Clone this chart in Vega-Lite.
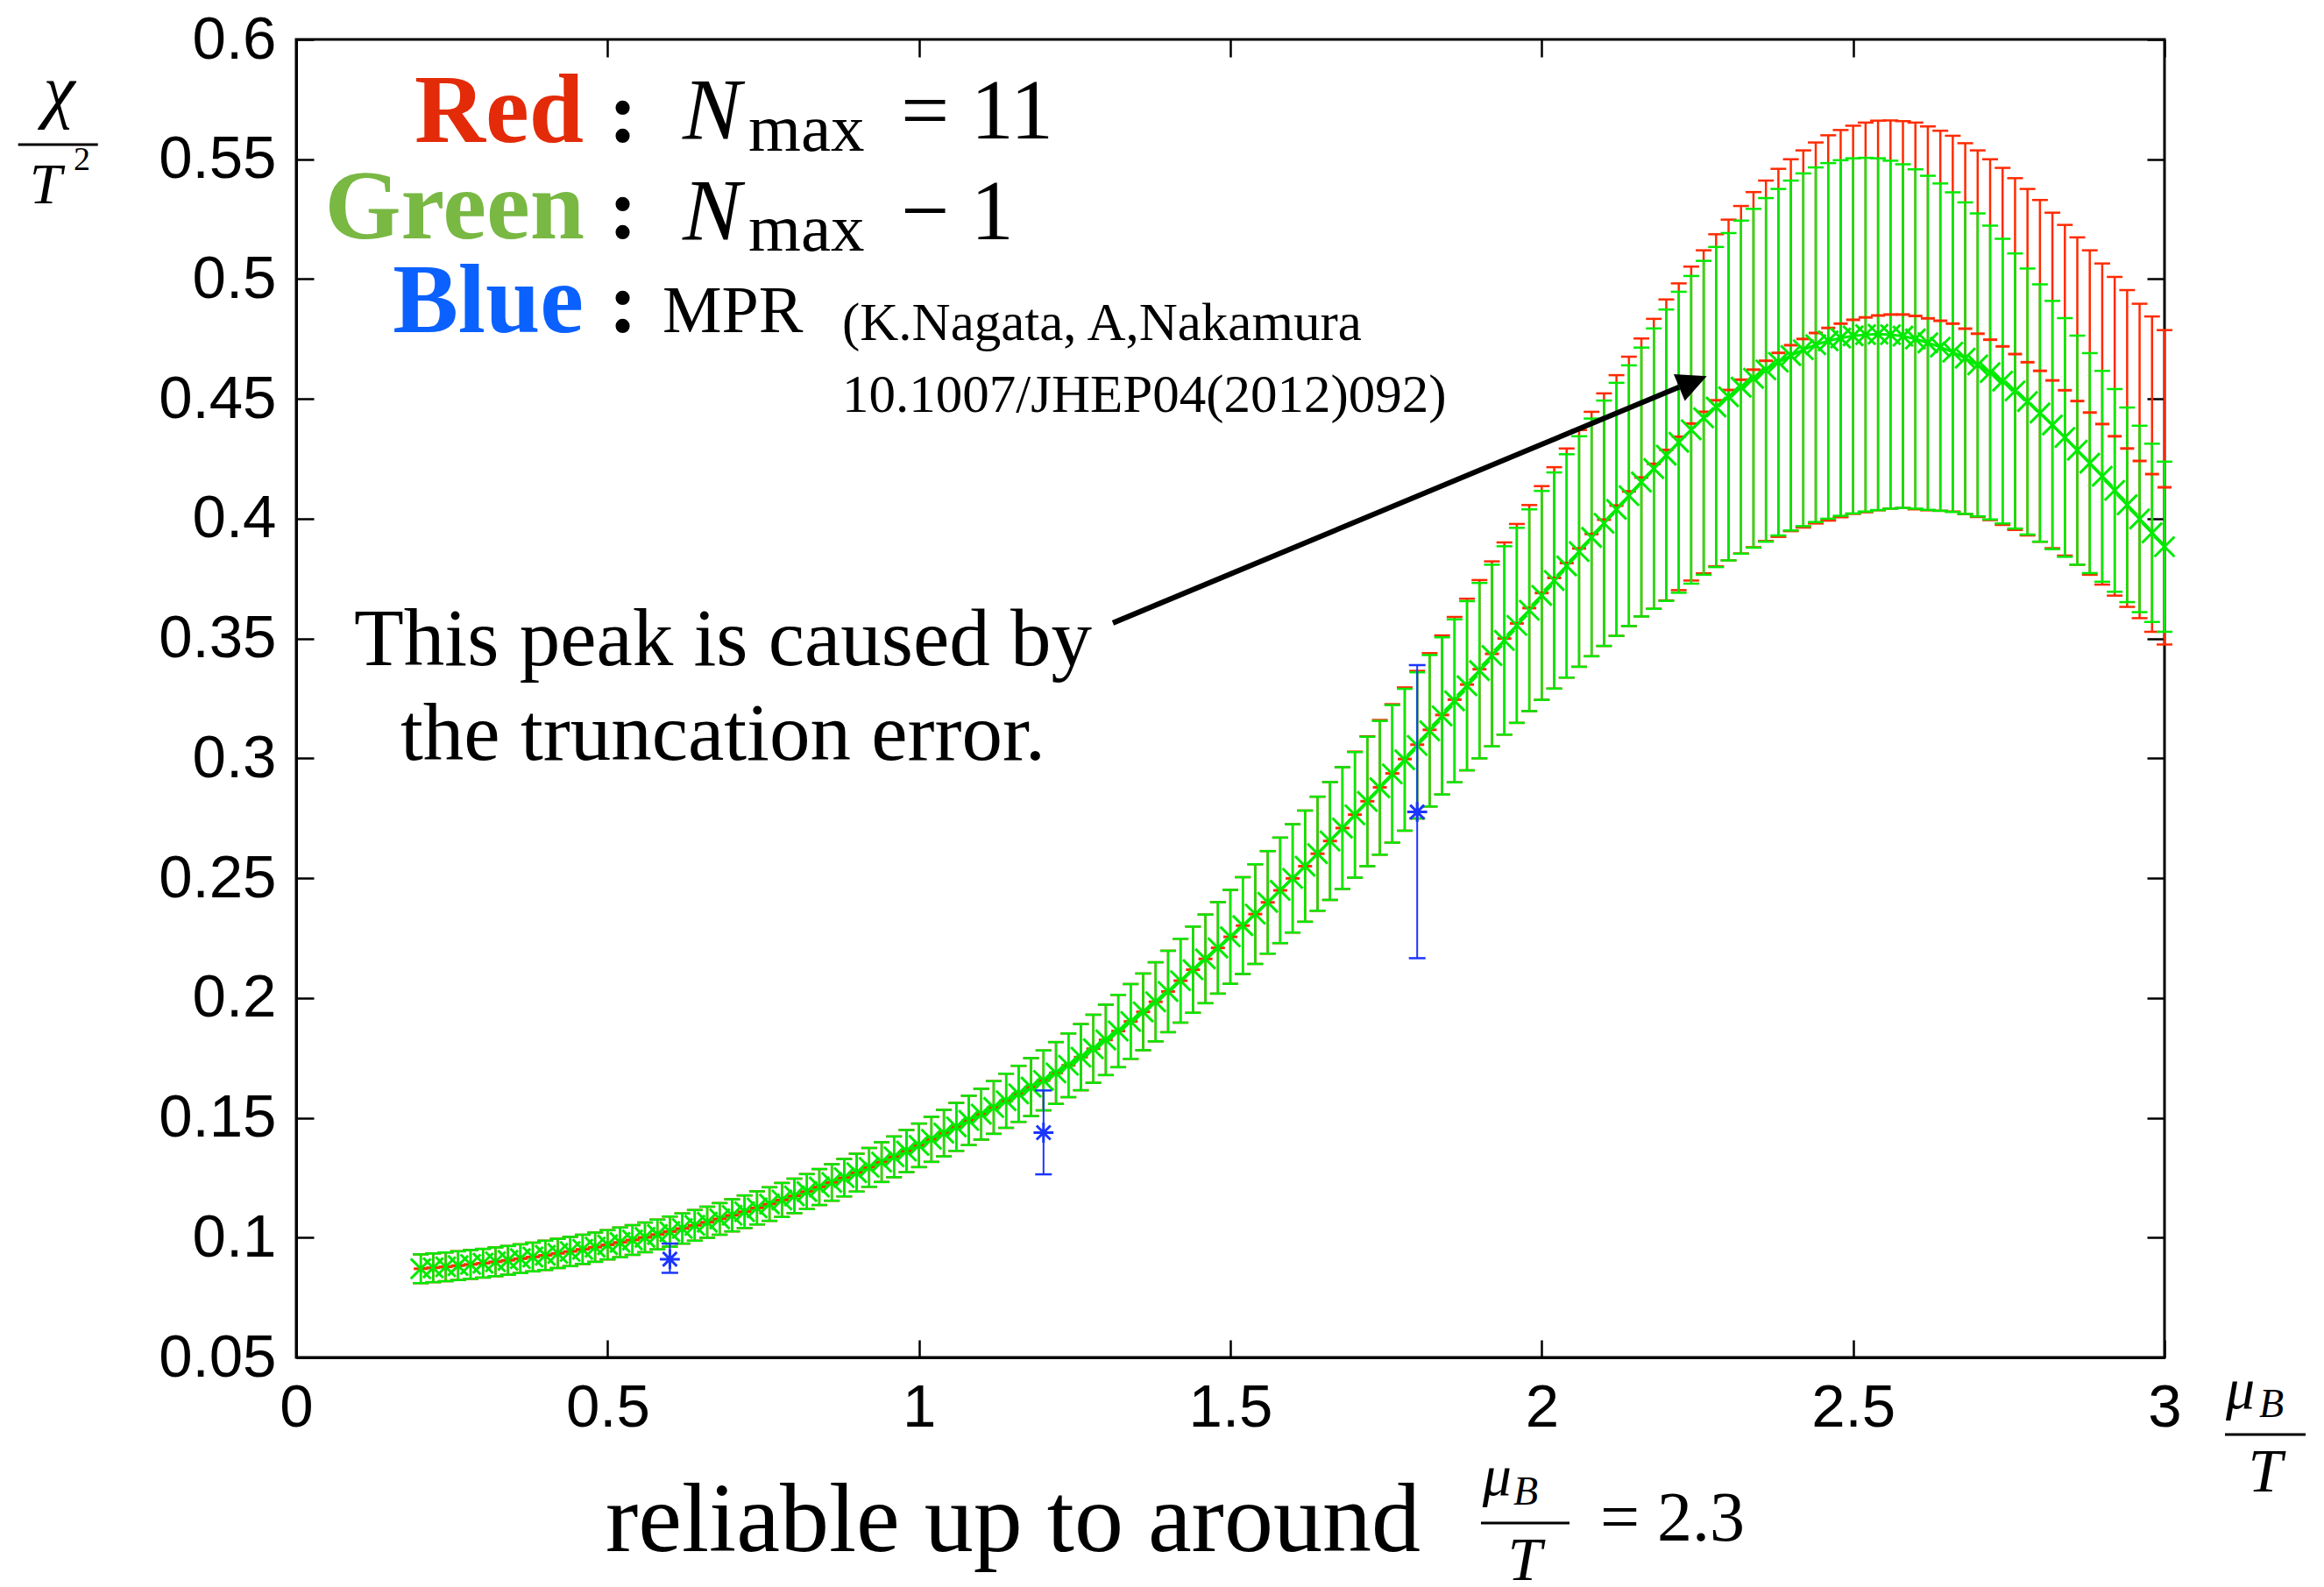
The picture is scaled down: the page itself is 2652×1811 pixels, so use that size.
{
"$schema": "https://vega.github.io/schema/vega-lite/v6.json",
"width": 2132, "height": 1504,
"autosize": {"type": "none"},
"padding": {"left": 338, "top": 45, "right": 182, "bottom": 262},
"background": "white",
"config": {
  "view": {"stroke": "black", "strokeWidth": 3},
  "axis": {"grid": false, "tickColor": "black", "domainColor": "black", "labelColor": "black", "tickWidth": 2.5, "domainWidth": 3, "tickSize": -20, "labelFont": "Liberation Sans", "labelFontSize": 69, "labelPadding": 43, "labelFlush": false, "labelOverlap": false, "labelBound": false},
  "point": {"opacity": 1},
  "tick": {"opacity": 1}
},
"datasets": {
"green": [
{"x":0.20,"y":0.0870,"e":0.0060},{"x":0.22,"y":0.0874,"e":0.0060},{"x":0.24,"y":0.0878,"e":0.0060},{"x":0.26,"y":0.0883,"e":0.0060},{"x":0.28,"y":0.0888,"e":0.0060},
{"x":0.30,"y":0.0893,"e":0.0060},{"x":0.32,"y":0.0899,"e":0.0060},{"x":0.34,"y":0.0905,"e":0.0060},{"x":0.36,"y":0.0912,"e":0.0060},{"x":0.38,"y":0.0919,"e":0.0060},
{"x":0.40,"y":0.0926,"e":0.0061},{"x":0.42,"y":0.0934,"e":0.0061},{"x":0.44,"y":0.0942,"e":0.0061},{"x":0.46,"y":0.0951,"e":0.0061},{"x":0.48,"y":0.0960,"e":0.0061},
{"x":0.50,"y":0.0970,"e":0.0061},{"x":0.52,"y":0.0980,"e":0.0062},{"x":0.54,"y":0.0990,"e":0.0062},{"x":0.56,"y":0.1001,"e":0.0062},{"x":0.58,"y":0.1013,"e":0.0062},
{"x":0.60,"y":0.1025,"e":0.0063},{"x":0.62,"y":0.1038,"e":0.0063},{"x":0.64,"y":0.1051,"e":0.0064},{"x":0.66,"y":0.1064,"e":0.0065},{"x":0.68,"y":0.1078,"e":0.0066},
{"x":0.70,"y":0.1093,"e":0.0067},{"x":0.72,"y":0.1108,"e":0.0068},{"x":0.74,"y":0.1124,"e":0.0069},{"x":0.76,"y":0.1140,"e":0.0070},{"x":0.78,"y":0.1157,"e":0.0071},
{"x":0.80,"y":0.1174,"e":0.0072},{"x":0.82,"y":0.1192,"e":0.0073},{"x":0.84,"y":0.1211,"e":0.0075},{"x":0.86,"y":0.1230,"e":0.0076},{"x":0.88,"y":0.1250,"e":0.0078},
{"x":0.90,"y":0.1271,"e":0.0079},{"x":0.92,"y":0.1293,"e":0.0081},{"x":0.94,"y":0.1315,"e":0.0083},{"x":0.96,"y":0.1337,"e":0.0085},{"x":0.98,"y":0.1361,"e":0.0088},
{"x":1.00,"y":0.1385,"e":0.0091},{"x":1.02,"y":0.1410,"e":0.0094},{"x":1.04,"y":0.1436,"e":0.0097},{"x":1.06,"y":0.1462,"e":0.0100},{"x":1.08,"y":0.1489,"e":0.0103},
{"x":1.10,"y":0.1515,"e":0.0106},{"x":1.12,"y":0.1543,"e":0.0110},{"x":1.14,"y":0.1571,"e":0.0113},{"x":1.16,"y":0.1600,"e":0.0117},{"x":1.18,"y":0.1628,"e":0.0121},
{"x":1.20,"y":0.1656,"e":0.0125},{"x":1.22,"y":0.1687,"e":0.0129},{"x":1.24,"y":0.1719,"e":0.0133},{"x":1.26,"y":0.1753,"e":0.0138},{"x":1.28,"y":0.1788,"e":0.0142},
{"x":1.30,"y":0.1825,"e":0.0147},{"x":1.32,"y":0.1862,"e":0.0151},{"x":1.34,"y":0.1902,"e":0.0156},{"x":1.36,"y":0.1942,"e":0.0160},{"x":1.38,"y":0.1984,"e":0.0165},
{"x":1.40,"y":0.2027,"e":0.0170},{"x":1.42,"y":0.2072,"e":0.0175},{"x":1.44,"y":0.2118,"e":0.0180},{"x":1.46,"y":0.2163,"e":0.0185},{"x":1.48,"y":0.2209,"e":0.0191},
{"x":1.50,"y":0.2255,"e":0.0196},{"x":1.52,"y":0.2302,"e":0.0202},{"x":1.54,"y":0.2350,"e":0.0208},{"x":1.56,"y":0.2399,"e":0.0214},{"x":1.58,"y":0.2449,"e":0.0220},
{"x":1.60,"y":0.2499,"e":0.0226},{"x":1.62,"y":0.2550,"e":0.0232},{"x":1.64,"y":0.2602,"e":0.0238},{"x":1.66,"y":0.2655,"e":0.0246},{"x":1.68,"y":0.2709,"e":0.0254},
{"x":1.70,"y":0.2764,"e":0.0262},{"x":1.72,"y":0.2820,"e":0.0270},{"x":1.74,"y":0.2877,"e":0.0279},{"x":1.76,"y":0.2935,"e":0.0287},{"x":1.78,"y":0.2994,"e":0.0296},
{"x":1.80,"y":0.3054,"e":0.0305},{"x":1.82,"y":0.3115,"e":0.0316},{"x":1.84,"y":0.3177,"e":0.0328},{"x":1.86,"y":0.3240,"e":0.0340},{"x":1.88,"y":0.3303,"e":0.0353},
{"x":1.90,"y":0.3366,"e":0.0366},{"x":1.92,"y":0.3429,"e":0.0379},{"x":1.94,"y":0.3492,"e":0.0393},{"x":1.96,"y":0.3555,"e":0.0407},{"x":1.98,"y":0.3618,"e":0.0421},
{"x":2.00,"y":0.3680,"e":0.0436},{"x":2.02,"y":0.3742,"e":0.0451},{"x":2.04,"y":0.3803,"e":0.0466},{"x":2.06,"y":0.3863,"e":0.0481},{"x":2.08,"y":0.3922,"e":0.0496},
{"x":2.10,"y":0.3981,"e":0.0512},{"x":2.12,"y":0.4039,"e":0.0528},{"x":2.14,"y":0.4096,"e":0.0544},{"x":2.16,"y":0.4153,"e":0.0561},{"x":2.18,"y":0.4209,"e":0.0585},
{"x":2.20,"y":0.4265,"e":0.0608},{"x":2.22,"y":0.4319,"e":0.0628},{"x":2.24,"y":0.4371,"e":0.0642},{"x":2.26,"y":0.4421,"e":0.0655},{"x":2.28,"y":0.4466,"e":0.0668},
{"x":2.30,"y":0.4509,"e":0.0683},{"x":2.32,"y":0.4549,"e":0.0695},{"x":2.34,"y":0.4586,"e":0.0707},{"x":2.36,"y":0.4621,"e":0.0717},{"x":2.38,"y":0.4653,"e":0.0723},
{"x":2.40,"y":0.4681,"e":0.0730},{"x":2.42,"y":0.4705,"e":0.0736},{"x":2.44,"y":0.4726,"e":0.0740},{"x":2.46,"y":0.4742,"e":0.0742},{"x":2.48,"y":0.4754,"e":0.0742},
{"x":2.50,"y":0.4763,"e":0.0741},{"x":2.52,"y":0.4768,"e":0.0738},{"x":2.54,"y":0.4770,"e":0.0734},{"x":2.56,"y":0.4768,"e":0.0726},{"x":2.58,"y":0.4762,"e":0.0717},
{"x":2.60,"y":0.4750,"e":0.0708},{"x":2.62,"y":0.4734,"e":0.0697},{"x":2.64,"y":0.4716,"e":0.0683},{"x":2.66,"y":0.4695,"e":0.0667},{"x":2.68,"y":0.4670,"e":0.0650},
{"x":2.70,"y":0.4642,"e":0.0632},{"x":2.72,"y":0.4610,"e":0.0613},{"x":2.74,"y":0.4574,"e":0.0594},{"x":2.76,"y":0.4533,"e":0.0574},{"x":2.78,"y":0.4489,"e":0.0555},
{"x":2.80,"y":0.4441,"e":0.0537},{"x":2.82,"y":0.4391,"e":0.0518},{"x":2.84,"y":0.4339,"e":0.0498},{"x":2.86,"y":0.4286,"e":0.0478},{"x":2.88,"y":0.4232,"e":0.0459},
{"x":2.90,"y":0.4177,"e":0.0440},{"x":2.92,"y":0.4118,"e":0.0423},{"x":2.94,"y":0.4058,"e":0.0406},{"x":2.96,"y":0.3999,"e":0.0389},{"x":2.98,"y":0.3941,"e":0.0372},
{"x":3.00,"y":0.3883,"e":0.0355}
],
"red": [
{"x":0.20,"y":0.0870,"e":0.0060},{"x":0.22,"y":0.0874,"e":0.0060},{"x":0.24,"y":0.0878,"e":0.0060},{"x":0.26,"y":0.0883,"e":0.0060},{"x":0.28,"y":0.0888,"e":0.0060},
{"x":0.30,"y":0.0893,"e":0.0060},{"x":0.32,"y":0.0899,"e":0.0060},{"x":0.34,"y":0.0905,"e":0.0060},{"x":0.36,"y":0.0912,"e":0.0060},{"x":0.38,"y":0.0919,"e":0.0060},
{"x":0.40,"y":0.0926,"e":0.0061},{"x":0.42,"y":0.0934,"e":0.0061},{"x":0.44,"y":0.0942,"e":0.0061},{"x":0.46,"y":0.0951,"e":0.0061},{"x":0.48,"y":0.0960,"e":0.0061},
{"x":0.50,"y":0.0970,"e":0.0061},{"x":0.52,"y":0.0980,"e":0.0062},{"x":0.54,"y":0.0990,"e":0.0062},{"x":0.56,"y":0.1001,"e":0.0062},{"x":0.58,"y":0.1013,"e":0.0062},
{"x":0.60,"y":0.1025,"e":0.0063},{"x":0.62,"y":0.1038,"e":0.0063},{"x":0.64,"y":0.1051,"e":0.0064},{"x":0.66,"y":0.1064,"e":0.0065},{"x":0.68,"y":0.1078,"e":0.0066},
{"x":0.70,"y":0.1093,"e":0.0067},{"x":0.72,"y":0.1108,"e":0.0068},{"x":0.74,"y":0.1124,"e":0.0069},{"x":0.76,"y":0.1140,"e":0.0070},{"x":0.78,"y":0.1157,"e":0.0071},
{"x":0.80,"y":0.1174,"e":0.0072},{"x":0.82,"y":0.1192,"e":0.0073},{"x":0.84,"y":0.1211,"e":0.0075},{"x":0.86,"y":0.1230,"e":0.0076},{"x":0.88,"y":0.1250,"e":0.0078},
{"x":0.90,"y":0.1271,"e":0.0079},{"x":0.92,"y":0.1293,"e":0.0081},{"x":0.94,"y":0.1315,"e":0.0083},{"x":0.96,"y":0.1337,"e":0.0085},{"x":0.98,"y":0.1361,"e":0.0088},
{"x":1.00,"y":0.1385,"e":0.0091},{"x":1.02,"y":0.1410,"e":0.0094},{"x":1.04,"y":0.1436,"e":0.0097},{"x":1.06,"y":0.1462,"e":0.0100},{"x":1.08,"y":0.1489,"e":0.0103},
{"x":1.10,"y":0.1515,"e":0.0106},{"x":1.12,"y":0.1543,"e":0.0110},{"x":1.14,"y":0.1571,"e":0.0113},{"x":1.16,"y":0.1600,"e":0.0117},{"x":1.18,"y":0.1628,"e":0.0121},
{"x":1.20,"y":0.1656,"e":0.0125},{"x":1.22,"y":0.1687,"e":0.0129},{"x":1.24,"y":0.1719,"e":0.0133},{"x":1.26,"y":0.1753,"e":0.0138},{"x":1.28,"y":0.1788,"e":0.0142},
{"x":1.30,"y":0.1825,"e":0.0147},{"x":1.32,"y":0.1862,"e":0.0151},{"x":1.34,"y":0.1902,"e":0.0156},{"x":1.36,"y":0.1942,"e":0.0160},{"x":1.38,"y":0.1984,"e":0.0165},
{"x":1.40,"y":0.2027,"e":0.0170},{"x":1.42,"y":0.2072,"e":0.0175},{"x":1.44,"y":0.2118,"e":0.0180},{"x":1.46,"y":0.2163,"e":0.0185},{"x":1.48,"y":0.2209,"e":0.0191},
{"x":1.50,"y":0.2255,"e":0.0196},{"x":1.52,"y":0.2302,"e":0.0202},{"x":1.54,"y":0.2350,"e":0.0208},{"x":1.56,"y":0.2399,"e":0.0214},{"x":1.58,"y":0.2449,"e":0.0220},
{"x":1.60,"y":0.2499,"e":0.0226},{"x":1.62,"y":0.2550,"e":0.0232},{"x":1.64,"y":0.2602,"e":0.0238},{"x":1.66,"y":0.2655,"e":0.0246},{"x":1.68,"y":0.2709,"e":0.0254},
{"x":1.70,"y":0.2765,"e":0.0263},{"x":1.72,"y":0.2821,"e":0.0271},{"x":1.74,"y":0.2879,"e":0.0281},{"x":1.76,"y":0.2937,"e":0.0289},{"x":1.78,"y":0.2997,"e":0.0299},
{"x":1.80,"y":0.3057,"e":0.0308},{"x":1.82,"y":0.3119,"e":0.0320},{"x":1.84,"y":0.3181,"e":0.0332},{"x":1.86,"y":0.3245,"e":0.0345},{"x":1.88,"y":0.3308,"e":0.0358},
{"x":1.90,"y":0.3372,"e":0.0372},{"x":1.92,"y":0.3436,"e":0.0386},{"x":1.94,"y":0.3500,"e":0.0401},{"x":1.96,"y":0.3563,"e":0.0415},{"x":1.98,"y":0.3627,"e":0.0430},
{"x":2.00,"y":0.3690,"e":0.0446},{"x":2.02,"y":0.3753,"e":0.0462},{"x":2.04,"y":0.3815,"e":0.0478},{"x":2.06,"y":0.3876,"e":0.0494},{"x":2.08,"y":0.3936,"e":0.0510},
{"x":2.10,"y":0.3996,"e":0.0527},{"x":2.12,"y":0.4055,"e":0.0544},{"x":2.14,"y":0.4114,"e":0.0562},{"x":2.16,"y":0.4172,"e":0.0580},{"x":2.18,"y":0.4229,"e":0.0605},
{"x":2.20,"y":0.4287,"e":0.0628},{"x":2.22,"y":0.4342,"e":0.0640},{"x":2.24,"y":0.4397,"e":0.0655},{"x":2.26,"y":0.4446,"e":0.0674},{"x":2.28,"y":0.4494,"e":0.0693},
{"x":2.30,"y":0.4537,"e":0.0711},{"x":2.32,"y":0.4580,"e":0.0725},{"x":2.34,"y":0.4622,"e":0.0741},{"x":2.36,"y":0.4659,"e":0.0752},{"x":2.38,"y":0.4692,"e":0.0768},
{"x":2.40,"y":0.4724,"e":0.0776},{"x":2.42,"y":0.4750,"e":0.0787},{"x":2.44,"y":0.4775,"e":0.0795},{"x":2.46,"y":0.4796,"e":0.0804},{"x":2.48,"y":0.4814,"e":0.0808},
{"x":2.50,"y":0.4830,"e":0.0810},{"x":2.52,"y":0.4840,"e":0.0813},{"x":2.54,"y":0.4848,"e":0.0813},{"x":2.56,"y":0.4852,"e":0.0810},{"x":2.58,"y":0.4852,"e":0.0807},
{"x":2.60,"y":0.4846,"e":0.0807},{"x":2.62,"y":0.4836,"e":0.0801},{"x":2.64,"y":0.4826,"e":0.0793},{"x":2.66,"y":0.4814,"e":0.0784},{"x":2.68,"y":0.4793,"e":0.0774},
{"x":2.70,"y":0.4772,"e":0.0765},{"x":2.72,"y":0.4747,"e":0.0753},{"x":2.74,"y":0.4719,"e":0.0745},{"x":2.76,"y":0.4687,"e":0.0734},{"x":2.78,"y":0.4653,"e":0.0723},
{"x":2.80,"y":0.4617,"e":0.0713},{"x":2.82,"y":0.4577,"e":0.0700},{"x":2.84,"y":0.4536,"e":0.0690},{"x":2.86,"y":0.4491,"e":0.0683},{"x":2.88,"y":0.4443,"e":0.0677},
{"x":2.90,"y":0.4395,"e":0.0670},{"x":2.92,"y":0.4344,"e":0.0665},{"x":2.94,"y":0.4293,"e":0.0661},{"x":2.96,"y":0.4241,"e":0.0656},{"x":2.98,"y":0.4186,"e":0.0658},
{"x":3.00,"y":0.4131,"e":0.0656}
],
"blue": [
{"x":0.6,"y":0.0910,"lo":0.0853,"hi":0.0975},
{"x":1.2,"y":0.1438,"lo":0.1264,"hi":0.1614},
{"x":1.8,"y":0.2776,"lo":0.2166,"hi":0.3389}
]
},
"encoding": {
  "x": {"field": "x", "type": "quantitative", "scale": {"domain": [0, 3], "nice": false, "zero": false}, "axis": null},
  "y": {"field": "y", "type": "quantitative", "scale": {"domain": [0.05, 0.6], "nice": false, "zero": false}, "axis": null}
},
"resolve": {"axis": {"x": "independent", "y": "independent"}},
"layer": [
  {"data": {"name": "red"},
   "mark": {"type": "errorbar", "color": "#ff2b00", "thickness": 2.5, "opacity": 1, "ticks": {"size": 18, "thickness": 2.5, "opacity": 1}},
   "encoding": {"yError": {"field": "e"}}},
  {"data": {"name": "green"},
   "mark": {"type": "errorbar", "color": "#00ea00", "thickness": 2.5, "opacity": 1, "ticks": {"size": 18, "thickness": 2.5, "opacity": 1}},
   "encoding": {"yError": {"field": "e"}}},
  {"data": {"name": "green"},
   "mark": {"type": "line", "color": "#00ea00", "strokeWidth": 3},
   "encoding": {
     "x": {"field": "x", "type": "quantitative", "scale": {"domain": [0, 3], "nice": false, "zero": false},
           "axis": {"orient": "bottom", "values": [0, 0.5, 1, 1.5, 2, 2.5, 3], "format": "~g", "title": null}},
     "y": {"field": "y", "type": "quantitative", "scale": {"domain": [0.05, 0.6], "nice": false, "zero": false},
           "axis": {"orient": "left", "values": [0.05, 0.1, 0.15, 0.2, 0.25, 0.3, 0.35, 0.4, 0.45, 0.5, 0.55, 0.6], "format": "~g", "title": null}}
   }},
  {"data": {"name": "red"},
   "mark": {"type": "tick", "orient": "horizontal", "color": "#ff2b00", "size": 16, "thickness": 3, "opacity": 1}},
  {"data": {"name": "green"},
   "mark": {"type": "point", "shape": "M-1,-1L1,1M-1,1L1,-1", "size": 520, "strokeWidth": 3, "color": "#00ea00", "filled": false, "opacity": 1}},
  {"data": {"name": "blue"},
   "mark": {"type": "errorbar", "color": "#1a35ff", "thickness": 2, "opacity": 1, "ticks": {"size": 19, "thickness": 2.5, "opacity": 1}},
   "encoding": {
     "y": {"field": "lo", "type": "quantitative", "scale": {"domain": [0.05, 0.6], "nice": false, "zero": false}, "axis": null},
     "y2": {"field": "hi"}
   }},
  {"data": {"name": "blue"},
   "mark": {"type": "point", "shape": "M-1,0L1,0M0,-1L0,1M-0.7,-0.7L0.7,0.7M-0.7,0.7L0.7,-0.7", "size": 520, "strokeWidth": 3, "color": "#1a35ff", "filled": false, "opacity": 1},
   "encoding": {
     "x": {"field": "x", "type": "quantitative", "scale": {"domain": [0, 3], "nice": false, "zero": false},
           "axis": {"orient": "top", "values": [0, 0.5, 1, 1.5, 2, 2.5, 3], "labels": false, "domain": false, "title": null}},
     "y": {"field": "y", "type": "quantitative", "scale": {"domain": [0.05, 0.6], "nice": false, "zero": false},
           "axis": {"orient": "right", "values": [0.05, 0.1, 0.15, 0.2, 0.25, 0.3, 0.35, 0.4, 0.45, 0.5, 0.55, 0.6], "labels": false, "domain": false, "title": null}}
   }},
  {"data": {"values": [{"x": 0.4615, "y": 0.5572, "t": "Red"}, {"x": 0.4629, "y": 0.5170, "t": "Green"}, {"x": 0.4615, "y": 0.4779, "t": "Blue"}]},
   "mark": {"type": "text", "align": "right", "baseline": "alphabetic", "font": "Liberation Serif", "fontWeight": "bold", "fontSize": 112},
   "encoding": {"text": {"field": "t"}, "color": {"field": "t", "type": "nominal", "scale": {"domain": ["Red", "Green", "Blue"], "range": ["#e32b09", "#78b843", "#0b61fe"]}, "legend": null}}},
  {"data": {"values": [{"x": 0.5249, "y": 0.5572, "t": ":"}, {"x": 0.5249, "y": 0.5170, "t": ":"}, {"x": 0.5249, "y": 0.4779, "t": ":"}]},
   "mark": {"type": "text", "align": "center", "baseline": "alphabetic", "font": "Liberation Serif", "fontWeight": "bold", "fontSize": 100, "color": "black"},
   "encoding": {"text": {"field": "t"}}},
  {"data": {"values": [{"x": 0.6205, "y": 0.5587, "t": "N"}, {"x": 0.6205, "y": 0.5167, "t": "N"}]},
   "mark": {"type": "text", "align": "left", "baseline": "alphabetic", "font": "Liberation Serif", "fontStyle": "italic", "fontSize": 100, "color": "black"},
   "encoding": {"text": {"field": "t"}}},
  {"data": {"values": [{"x": 0.7261, "y": 0.5536, "t": "max"}, {"x": 0.7261, "y": 0.5119, "t": "max"}]},
   "mark": {"type": "text", "align": "left", "baseline": "alphabetic", "font": "Liberation Serif", "fontSize": 77, "color": "black"},
   "encoding": {"text": {"field": "t"}}},
  {"data": {"values": [{"x": 0.9709, "y": 0.5587, "t": "= 11"}, {"x": 0.9709, "y": 0.5167, "t": "− 1"}]},
   "mark": {"type": "text", "align": "left", "baseline": "alphabetic", "font": "Liberation Serif", "fontSize": 98, "color": "black"},
   "encoding": {"text": {"field": "t"}}},
  {"data": {"values": [{"x": 0.5882, "y": 0.4778, "t": "MPR"}]},
   "mark": {"type": "text", "align": "left", "baseline": "alphabetic", "font": "Liberation Serif", "fontSize": 76, "color": "black"},
   "encoding": {"text": {"field": "t"}}},
  {"data": {"values": [{"x": 0.8766, "y": 0.4745, "t": "(K.Nagata, A,Nakamura"}, {"x": 0.8766, "y": 0.4446, "t": "10.1007/JHEP04(2012)092)"}]},
   "mark": {"type": "text", "align": "left", "baseline": "alphabetic", "font": "Liberation Serif", "fontSize": 61, "color": "black"},
   "encoding": {"text": {"field": "t"}}},
  {"data": {"values": [{"x": 0.6853, "y": 0.3388, "t": "This peak is caused by"}, {"x": 0.6853, "y": 0.2995, "t": "the truncation error."}]},
   "mark": {"type": "text", "align": "center", "baseline": "alphabetic", "font": "Liberation Serif", "fontSize": 93, "color": "black"},
   "encoding": {"text": {"field": "t"}}},
  {"data": {"values": [{"x": 0.4967, "y": -0.0308, "t": "reliable up to around"}]},
   "mark": {"type": "text", "align": "left", "baseline": "alphabetic", "font": "Liberation Serif", "fontSize": 112, "color": "black"},
   "encoding": {"text": {"field": "t"}}},
  {"data": {"values": [{"x": 2.0938, "y": -0.0264, "t": "= 2.3"}]},
   "mark": {"type": "text", "align": "left", "baseline": "alphabetic", "font": "Liberation Serif", "fontSize": 80, "color": "black"},
   "encoding": {"text": {"field": "t"}}},
  {"data": {"values": [{"x": -0.3806, "y": 0.5689, "t": "χ"}]},
   "mark": {"type": "text", "align": "center", "baseline": "alphabetic", "font": "Liberation Serif", "fontStyle": "italic", "fontSize": 82, "color": "black"},
   "encoding": {"text": {"field": "t"}}},
  {"data": {"values": [{"x": -0.4024, "y": 0.5317, "t": "T"}]},
   "mark": {"type": "text", "align": "center", "baseline": "alphabetic", "font": "Liberation Serif", "fontStyle": "italic", "fontSize": 66, "color": "black"},
   "encoding": {"text": {"field": "t"}}},
  {"data": {"values": [{"x": -0.3575, "y": 0.5455, "t": "2"}]},
   "mark": {"type": "text", "align": "left", "baseline": "alphabetic", "font": "Liberation Serif", "fontSize": 38, "color": "black"},
   "encoding": {"text": {"field": "t"}}},
  {"data": {"values": [{"x": 3.0985, "y": 0.0288, "t": "μ"}, {"x": 1.905, "y": -0.0074, "t": "μ"}]},
   "mark": {"type": "text", "align": "left", "baseline": "alphabetic", "font": "Liberation Serif", "fontStyle": "italic", "fontSize": 66, "color": "black"},
   "encoding": {"text": {"field": "t"}}},
  {"data": {"values": [{"x": 3.1520, "y": 0.0251, "t": "B"}, {"x": 1.9545, "y": -0.0114, "t": "B"}]},
   "mark": {"type": "text", "align": "left", "baseline": "alphabetic", "font": "Liberation Serif", "fontStyle": "italic", "fontSize": 46, "color": "black"},
   "encoding": {"text": {"field": "t"}}},
  {"data": {"values": [{"x": 3.1618, "y": -0.0060, "t": "T"}, {"x": 1.9728, "y": -0.0429, "t": "T"}]},
   "mark": {"type": "text", "align": "center", "baseline": "alphabetic", "font": "Liberation Serif", "fontStyle": "italic", "fontSize": 70, "color": "black"},
   "encoding": {"text": {"field": "t"}}},
  {"data": {"values": [{"x": -0.4465, "x2": -0.3184, "y": 0.5561}, {"x": 3.0971, "x2": 3.2266, "y": 0.0178}, {"x": 1.9024, "x2": 2.0446, "y": -0.0191}]},
   "mark": {"type": "rule", "color": "black", "strokeWidth": 3},
   "encoding": {"x2": {"field": "x2"}}},
  {"data": {"values": [{"x": 1.3114, "y": 0.3565}, {"x": 2.2204, "y": 0.4549}]},
   "mark": {"type": "line", "color": "black", "strokeWidth": 6}},
  {"data": {"values": [{"x": 2.2650, "y": 0.4595}]},
   "mark": {"type": "point", "shape": "M0,0L0.5,1.03L-0.5,1.03Z", "size": 4356, "angle": 67.4, "filled": true, "color": "black", "strokeWidth": 0, "opacity": 1}}
]
}
